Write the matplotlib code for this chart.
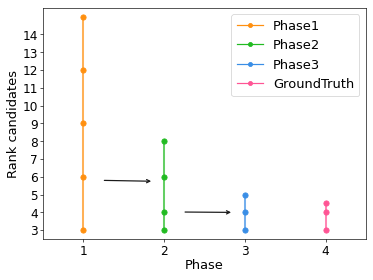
import matplotlib
matplotlib.use("Agg")
from matplotlib import pyplot as plt

phase1 = [3, 6, 9, 12, 15]
phase2 = [3, 4, 6, 8]
phase3 = [3, 4, 5]
truth = [3, 4, 4.5]

names = ["Phase1", "Phase2", "Phase3", "GroundTruth"]
series = [phase1, phase2, phase3, truth]
colors = ["#ff9010", "#22bb22", "#3a8ee6", "#ff5595"]
yticks = list(range(3, 15))

fig = plt.figure(figsize=(6.4, 4.8))
fig.subplots_adjust(left=0.115, right=0.979, bottom=0.146, top=0.971)
ax = fig.add_subplot(111)

for i, (name, vals, c) in enumerate(zip(names, series, colors)):
    xs = [i + 1] * len(vals)
    ax.plot(xs, vals, "-", color=c, lw=2.5, alpha=0.7)
    ax.plot(xs, vals, "o", color=c, ms=6.5)
    ax.plot([], [], "-o", color=c, lw=1.5, ms=5, label=name)

# arrows between phases
ax.annotate("", xy=(1.86, 5.75), xytext=(1.24, 5.8),
            arrowprops=dict(arrowstyle="->", color="0.1", lw=1.5))
ax.annotate("", xy=(2.85, 4.0), xytext=(2.24, 4.02),
            arrowprops=dict(arrowstyle="->", color="0.1", lw=1.5))

ax.set_xlim(0.5, 4.5)
ax.set_ylim(2.5, 15.5)
ax.set_xticks([1, 2, 3, 4])
ax.set_yticks(yticks)
ax.tick_params(labelsize=15, pad=3)
ax.set_xlabel("Phase", fontsize=16, labelpad=2)
ax.set_ylabel("Rank candidates", fontsize=16, labelpad=3)
ax.legend(loc="upper right", fontsize=16)

fig.savefig("out.png", dpi=58.4)
